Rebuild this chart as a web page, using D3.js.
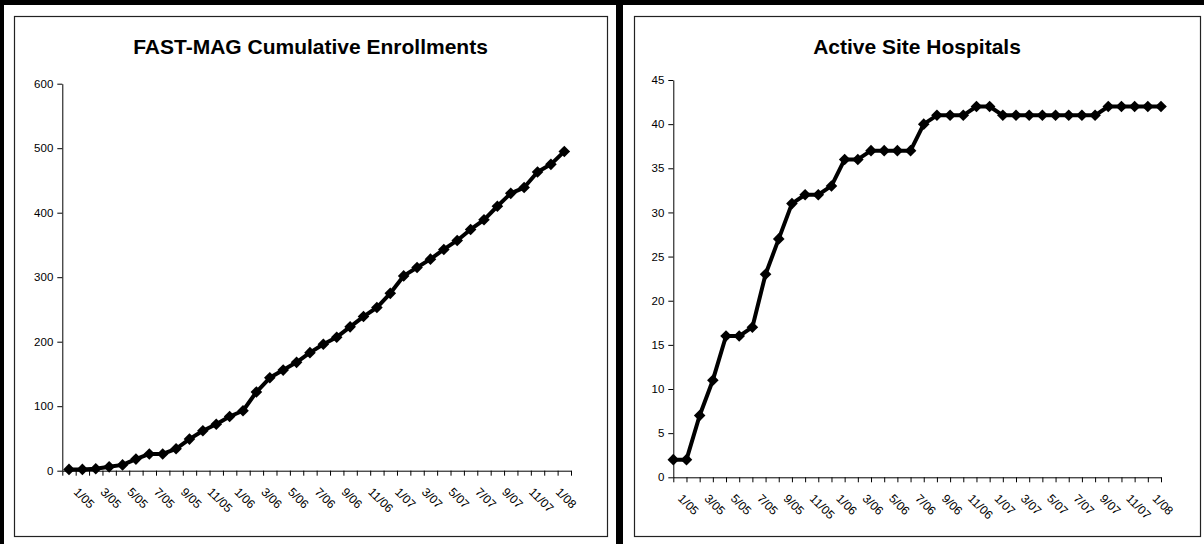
<!DOCTYPE html>
<html>
<head>
<meta charset="utf-8">
<script src="https://cdn.jsdelivr.net/npm/d3@7"></script>
<style>
  html, body { margin: 0; padding: 0; background: #fff; }
  svg { display: block; }
  text { font-family: "Liberation Sans", Arial, sans-serif; fill: #000; }
</style>
</head>
<body>
<svg id="chart" width="1204" height="544"></svg>
<script>
// ---- data ----
const months = ["1/05","2/05","3/05","4/05","5/05","6/05","7/05","8/05","9/05","10/05","11/05","12/05",
                "1/06","2/06","3/06","4/06","5/06","6/06","7/06","8/06","9/06","10/06","11/06","12/06",
                "1/07","2/07","3/07","4/07","5/07","6/07","7/07","8/07","9/07","10/07","11/07","12/07",
                "1/08","2/08"];
const shownLabels = ["1/05","3/05","5/05","7/05","9/05","11/05","1/06","3/06","5/06","7/06","9/06","11/06",
                     "1/07","3/07","5/07","7/07","9/07","11/07","1/08"];
const enrollments = [2,2,3,6,9,18,26,26,34,49,62,72,84,93,122,144,156,168,183,196,207,223,239,253,275,
                     302,315,328,343,357,374,389,410,430,439,463,475,495];
const sites = [2,2,7,11,16,16,17,23,27,31,32,32,33,36,36,37,37,37,37,40,41,41,41,42,42,
               41,41,41,41,41,41,41,41,42,42,42,42,42];
const enrollTicks = [0,100,200,300,400,500,600];
const siteTicks = [0,5,10,15,20,25,30,35,40,45];
const titles = ["FAST-MAG Cumulative Enrollments", "Active Site Hospitals"];

const svg = d3.select("#chart");

// ---- outer frame ----
svg.append("rect").attr("x",0).attr("y",0).attr("width",1204).attr("height",5).attr("fill","#000");
svg.append("rect").attr("x",0).attr("y",0).attr("width",4).attr("height",544).attr("fill","#000");
svg.append("rect").attr("x",616).attr("y",0).attr("width",7).attr("height",544).attr("fill","#000");

function diamond(g, pts, size) {
  g.selectAll("path.mk").data(pts).join("path")
    .attr("class","mk")
    .attr("d", d => `M${d[0]},${d[1]-size}L${d[0]+size},${d[1]}L${d[0]},${d[1]+size}L${d[0]-size},${d[1]}Z`)
    .attr("fill","#000");
}

function drawChart(opts) {
  const g = svg.append("g");
  // chart area frame
  g.append("rect").attr("x",opts.frame[0]+0.5).attr("y",opts.frame[1]+0.5)
    .attr("width",opts.frame[2]).attr("height",opts.frame[3])
    .attr("fill","#fff").attr("stroke","#222").attr("stroke-width",1.2);
  // title
  g.append("text").attr("x",opts.frame[0]+opts.frame[2]/2).attr("y",54)
    .attr("text-anchor","middle").style("font-size","21px").style("font-weight","bold")
    .text(opts.title);

  const y = d3.scaleLinear().domain([0, opts.yMax]).range([opts.y0, opts.y1]);
  const x = d3.scaleLinear().domain(opts.xDomain).range([opts.x0, opts.x1]);

  // y axis
  const ya = g.append("g").attr("transform",`translate(${opts.x0},0)`)
    .call(d3.axisLeft(y).tickValues(opts.yTicks).tickSize(5).tickSizeOuter(0).tickPadding(4));
  ya.select(".domain").attr("stroke","#000");
  ya.selectAll(".tick line").attr("stroke","#000");
  ya.selectAll("text").attr("fill","#000")
    .style("font-size","11.5px").style("font-family","Liberation Sans, Arial, sans-serif").style("fill","#000");

  // x axis ticks
  const xa = g.append("g").attr("transform",`translate(0,${opts.y0})`)
    .call(d3.axisBottom(x).tickValues(d3.range(opts.xDomain[0], opts.xDomain[1]+1)).tickSize(5).tickSizeOuter(0).tickFormat(""));
  xa.select(".domain").attr("stroke","#000");
  xa.selectAll(".tick line").attr("stroke","#000");

  // x labels
  const lbl = g.append("g");
  months.forEach((m,i) => {
    if (!shownLabels.includes(m)) return;
    const px = x(i + opts.offset) + 4;
    const py = opts.y0 + 22;
    lbl.append("text").attr("transform",`translate(${px},${py}) rotate(45)`)
      .attr("text-anchor","start").style("font-size","12px").style("fill","#000").text(m);
  });

  // line + markers
  const pts = opts.values.map((v,i) => [x(i + opts.offset), y(v)]);
  g.append("path").datum(pts).attr("d", d3.line()).attr("fill","none")
    .attr("stroke","#000").attr("stroke-width",4).attr("stroke-linejoin","round");
  diamond(g, pts, 5.8);
}

drawChart({
  frame:[14,16,593,520], title:titles[0], values:enrollments, yMax:600, yTicks:enrollTicks,
  y0:470.7, y1:83.7, x0:62.3, x1:571, xDomain:[0,38], offset:0.5
});
drawChart({
  frame:[634,16,566,520], title:titles[1], values:sites, yMax:45, yTicks:siteTicks,
  y0:477.3, y1:80, x0:673.3, x1:1161, xDomain:[0,37], offset:0
});
</script>
</body>
</html>
